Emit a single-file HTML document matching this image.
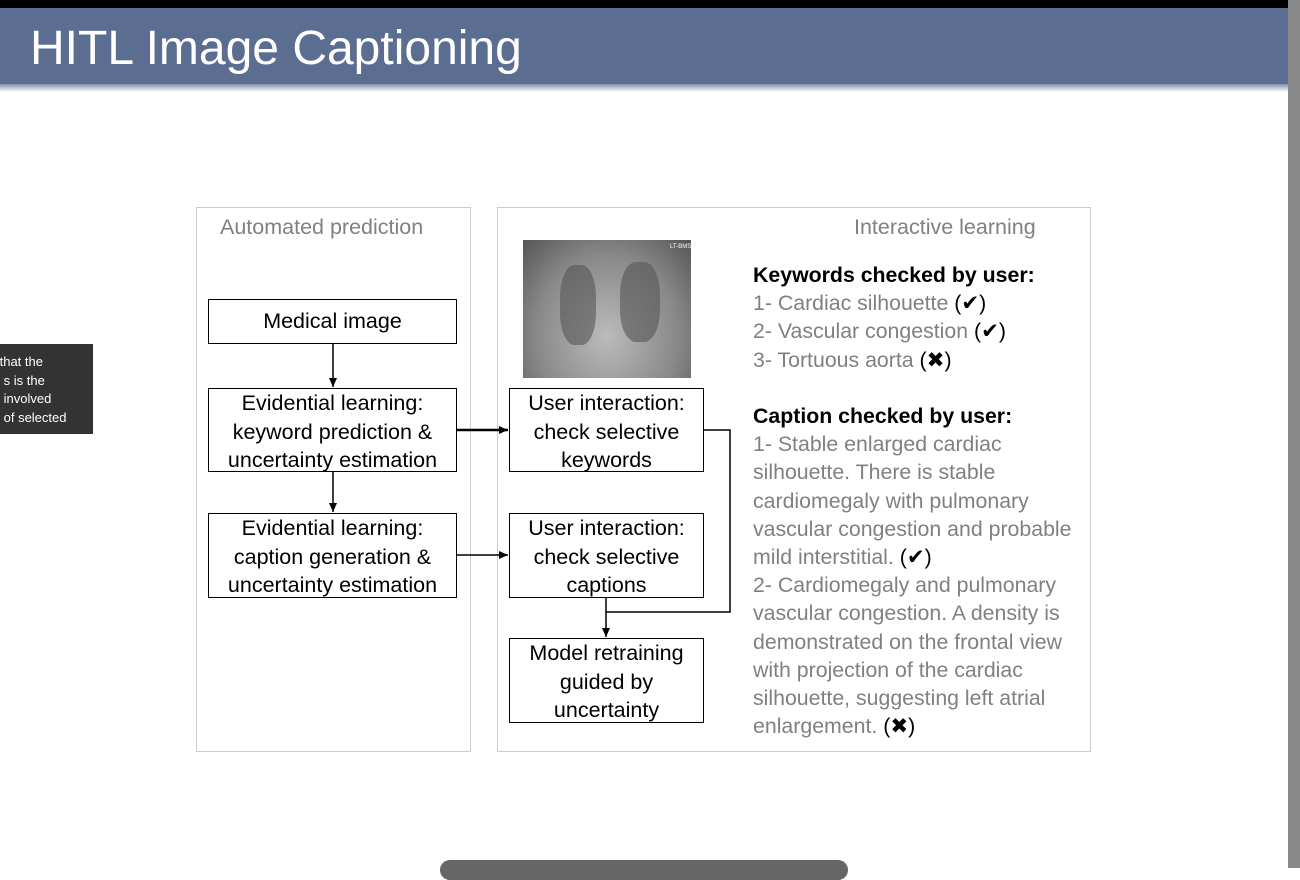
<!DOCTYPE html>
<html><head><meta charset="utf-8"><style>
body{margin:0;width:1300px;height:868px;background:#fff;position:relative;overflow:hidden;font-family:"Liberation Sans","DejaVu Sans",sans-serif}
.a{position:absolute}
.box{position:absolute;border:1.5px solid #000;background:#fff;text-align:center;font-size:21.5px;line-height:28.5px;color:#000;box-sizing:border-box;white-space:nowrap}
.pane{position:absolute;border:1.5px solid #ccc;box-sizing:border-box}
.g{color:#808080}
</style></head><body>
<div class="a" style="left:0;top:0;width:1300px;height:8px;background:#000"></div>
<div class="a" style="left:0;top:8px;width:1288px;height:78px;background:#5b6e91"></div>
<div class="a" style="left:0;top:84px;width:1288px;height:8px;background:linear-gradient(#8090ad,#fff)"></div>
<div class="a" style="left:30px;top:19px;font-size:48px;color:#fff;line-height:60px">HITL Image Captioning</div>
<div class="a" style="left:1288px;top:0;width:12px;height:868px;background:#888"></div>
<div class="a" style="left:0;top:344px;width:93px;height:90px;background:#333;color:#fff;font-size:13px;line-height:18.5px;padding-top:9px;box-sizing:border-box;white-space:nowrap;overflow:hidden;text-indent:-4px">&nbsp;that the<br>&nbsp;s is the<br>&nbsp;involved<br>&nbsp;of selected</div>
<div class="a" style="left:440px;top:860px;width:408px;height:20px;border-radius:10px;background:#666"></div>

<div class="pane" style="left:196px;top:207px;width:275px;height:545px"></div>
<div class="pane" style="left:497px;top:207px;width:594px;height:545px"></div>
<div class="a g" style="left:220px;top:215px;font-size:21.5px;white-space:nowrap">Automated prediction</div>
<div class="a g" style="left:854px;top:215px;font-size:21.5px;white-space:nowrap">Interactive learning</div>

<div class="a" style="left:523px;top:240px;width:168px;height:138px;background:radial-gradient(ellipse at 50% 70%,#bbb,#888 60%,#555)"></div>
<div class="a" style="left:560px;top:265px;width:36px;height:80px;background:#555;border-radius:40%;opacity:.6"></div>
<div class="a" style="left:620px;top:262px;width:40px;height:80px;background:#555;border-radius:40%;opacity:.6"></div>
<div class="a" style="left:670px;top:244px;font-size:6px;color:#fff">LT-BMS</div>

<div class="box" style="left:208px;top:299px;width:249px;height:45px;padding-top:7px">Medical image</div>
<div class="box" style="left:208px;top:388px;width:249px;height:84px">Evidential learning:<br>keyword prediction &amp;<br>uncertainty estimation</div>
<div class="box" style="left:208px;top:513px;width:249px;height:85px">Evidential learning:<br>caption generation &amp;<br>uncertainty estimation</div>
<div class="box" style="left:509px;top:388px;width:195px;height:84px">User interaction:<br>check selective<br>keywords</div>
<div class="box" style="left:509px;top:513px;width:195px;height:85px">User interaction:<br>check selective<br>captions</div>
<div class="box" style="left:509px;top:638px;width:195px;height:85px">Model retraining<br>guided by<br>uncertainty</div>

<svg class="a" style="left:0;top:0" width="1300" height="868">
<defs><marker id="m" markerUnits="userSpaceOnUse" markerWidth="10" markerHeight="10" refX="9" refY="5" orient="auto"><path d="M0,1 L9,5 L0,9z" fill="#000"/></marker></defs>
<g stroke="#000" stroke-width="1.5" fill="none">
<line x1="333" y1="344" x2="333" y2="387" marker-end="url(#m)"/>
<line x1="333" y1="472" x2="333" y2="512" marker-end="url(#m)"/>
<line x1="457" y1="430" x2="508" y2="430" marker-end="url(#m)" stroke-width="2.5"/>
<line x1="457" y1="555" x2="508" y2="555" marker-end="url(#m)"/>
<polyline points="704,430 730,430 730,612 606,612"/>
<line x1="606" y1="598" x2="606" y2="637" marker-end="url(#m)"/>
</g></svg>

<div class="a" style="left:753px;top:261px;font-size:21.3px;line-height:28.2px;width:340px;white-space:nowrap">
<b>Keywords checked by user:</b><br>
<span class="g">1- Cardiac silhouette </span>(✔)<br>
<span class="g">2- Vascular congestion </span>(✔)<br>
<span class="g">3- Tortuous aorta </span>(✖)<br><br>
<b>Caption checked by user:</b><br>
<span class="g">1- Stable enlarged cardiac<br>silhouette. There is stable<br>cardiomegaly with pulmonary<br>vascular congestion and probable<br>mild interstitial. </span>(✔)<br>
<span class="g">2- Cardiomegaly and pulmonary<br>vascular congestion. A density is<br>demonstrated on the frontal view<br>with projection of the cardiac<br>silhouette, suggesting left atrial<br>enlargement. </span>(✖)
</div>
</body></html>
